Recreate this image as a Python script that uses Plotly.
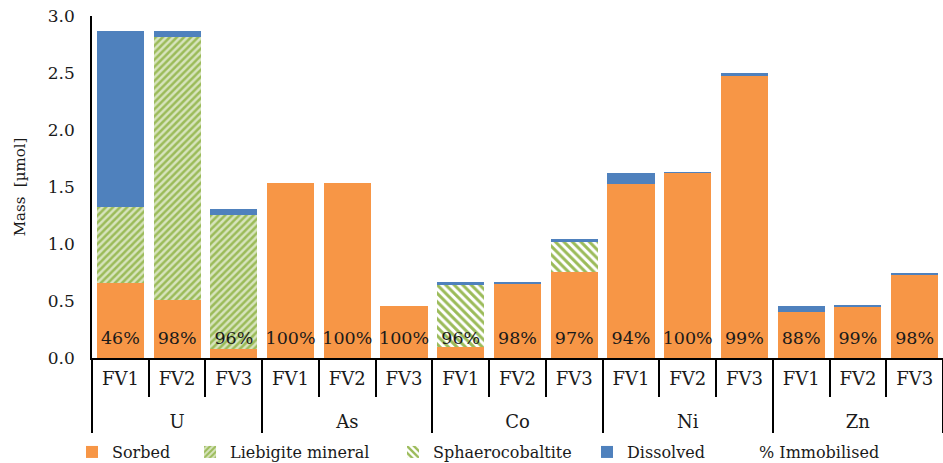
import plotly.graph_objects as go

elements = ["U", "U", "U", "As", "As", "As", "Co", "Co", "Co", "Ni", "Ni", "Ni", "Zn", "Zn", "Zn"]
scenarios = ["FV1", "FV2", "FV3"] * 5

sorbed = [0.66, 0.51, 0.08, 1.535, 1.535, 0.456, 0.10, 0.655, 0.757, 1.526, 1.625, 2.474, 0.40, 0.452, 0.73]
liebigite = [0.665, 2.305, 1.175, 0, 0, 0, 0, 0, 0, 0, 0, 0, 0, 0, 0]
sphaerocobaltite = [0, 0, 0, 0, 0, 0, 0.54, 0, 0.258, 0, 0, 0, 0, 0, 0]
dissolved = [1.545, 0.055, 0.05, 0, 0, 0, 0.03, 0.012, 0.03, 0.10, 0.005, 0.026, 0.055, 0.005, 0.013]
immobilised = ["46%", "98%", "96%", "100%", "100%", "100%", "96%", "98%", "97%",
               "94%", "100%", "99%", "88%", "99%", "98%"]
label_y = [0.16] * 15

# group labels pushed down one line so they sit below the scenario labels
x = [["<br>" + e for e in elements], scenarios]
FONT = "DejaVu Serif"

fig = go.Figure()
fig.add_trace(go.Bar(x=x, y=sorbed, name="Sorbed", legend="legend",
                     marker=dict(color="#F79646", line=dict(width=0))))
fig.add_trace(go.Bar(x=x, y=liebigite, name="Liebigite mineral", legend="legend2",
                     marker=dict(color="#D7E4BD", line=dict(width=0),
                                 pattern=dict(shape="/", fgcolor="#9BBB59", bgcolor="#D7E4BD",
                                              size=5, solidity=0.5, fillmode="replace"))))
fig.add_trace(go.Bar(x=x, y=sphaerocobaltite, name="Sphaerocobaltite", legend="legend3",
                     marker=dict(color="white", line=dict(width=0),
                                 pattern=dict(shape="\\", fgcolor="#9BBB59", bgcolor="white",
                                              size=6, solidity=0.5, fillmode="replace"))))
fig.add_trace(go.Bar(x=x, y=dissolved, name="Dissolved", legend="legend4",
                     marker=dict(color="#4F81BD", line=dict(width=0))))
fig.add_trace(go.Scatter(x=x, y=label_y, mode="text", text=immobilised,
                         textposition="middle center", showlegend=False,
                         textfont=dict(family=FONT, size=17.5, color="#1a1a1a"),
                         hoverinfo="skip"))
fig.add_trace(go.Scatter(x=[[x[0][0]], ["FV1"]], y=[None], mode="markers", name="% Immobilised",
                         legend="legend5", marker=dict(color="rgba(0,0,0,0)", size=10)))

leg_common = dict(orientation="h", xanchor="left", yanchor="middle", y=-0.275,
                  font=dict(family=FONT, size=16, color="#1a1a1a"), itemwidth=30,
                  bgcolor="rgba(0,0,0,0)")
fig.update_layout(
    barmode="stack",
    bargap=0.17,
    width=943, height=463,
    margin=dict(l=92, r=0, t=16, b=105, autoexpand=False),
    plot_bgcolor="white", paper_bgcolor="white",
    font=dict(family=FONT, size=18, color="#1a1a1a"),
    legend=dict(x=-0.0235, **leg_common),
    legend2=dict(x=0.1152, **leg_common),
    legend3=dict(x=0.3537, **leg_common),
    legend4=dict(x=0.5817, **leg_common),
    legend5=dict(x=0.7368, **leg_common),
    showlegend=True,
)
fig.update_xaxes(type="multicategory", range=[-0.5, 14.5], showline=True, linecolor="black",
                 linewidth=1.5, ticks="outside", tickcolor="black", ticklen=37, tickwidth=1.5,
                 showdividers=True, dividercolor="black", dividerwidth=1.5,
                 automargin=False, ticklabelstandoff=4,
                 tickfont=dict(family=FONT, size=18, color="#1a1a1a"), showgrid=False)
fig.update_yaxes(range=[0, 3], dtick=0.5, tickformat=".1f", showline=True, linecolor="black",
                 linewidth=1.5, showgrid=False, ticks="", zeroline=False, automargin=False,
                 ticklabelstandoff=12, ticklabeloverflow="allow",
                 tickfont=dict(family=FONT, size=17, color="#1a1a1a"),
                 title=dict(text="Mass  [µmol]", font=dict(family=FONT, size=15), standoff=19))

fig.write_html("out.html", config={"displayModeBar": False},
               post_script="document.body.style.margin='0';document.body.style.overflow='hidden';")
